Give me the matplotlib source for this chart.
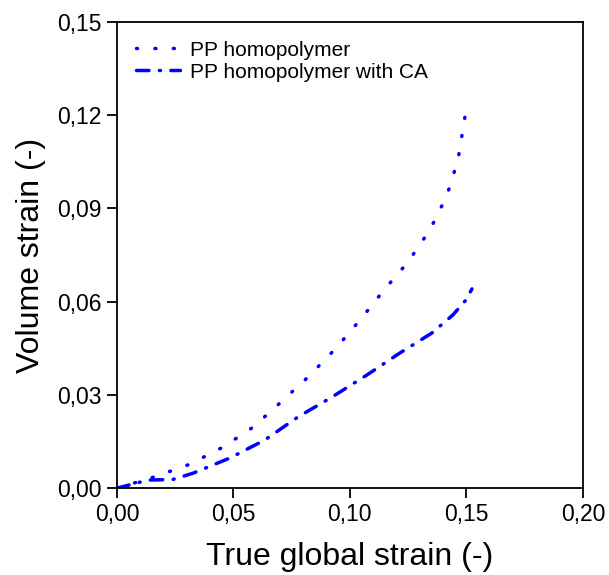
import numpy as np
import matplotlib
matplotlib.use("Agg")
import matplotlib.pyplot as plt
from matplotlib.ticker import FuncFormatter

plt.rcParams['font.family'] = ['Liberation Sans', 'DejaVu Sans']

# PP homopolymer (dotted)
x_pp = [0.0, 0.0155, 0.0313, 0.0455, 0.0584, 0.070, 0.0824, 0.094, 0.1047,
        0.1146, 0.1249, 0.1343, 0.1416, 0.1464, 0.1494]
y_pp = [0.0, 0.0035, 0.0077, 0.0132, 0.0196, 0.0274, 0.036, 0.045, 0.0544,
        0.0637, 0.0727, 0.083, 0.094, 0.1056, 0.1194]

# PP homopolymer with CA (dash-dot)
x_ca = [0.0, 0.0133, 0.024, 0.0326, 0.0485, 0.0635, 0.0777, 0.0923, 0.1073,
        0.1215, 0.1352, 0.1442, 0.1498, 0.1524]
y_ca = [0.0, 0.0026, 0.0028, 0.0048, 0.0097, 0.0155, 0.0229, 0.0293, 0.0364,
        0.0435, 0.0499, 0.0557, 0.0605, 0.0641]

fig = plt.figure(figsize=(6.09, 5.75), dpi=100)
ax = fig.add_axes([0.192, 0.151, 0.765, 0.811])

ax.plot(x_pp, y_pp, color='#0000ff', lw=2.5, dashes=(0.3, 5.0),
        dash_capstyle='round', label='PP homopolymer')
ax.plot(x_ca, y_ca, color='#0000ff', lw=2.5, dashes=(3.6, 3.0, 0.3, 3.0),
        dash_capstyle='round', label='PP homopolymer with CA')

ax.set_xlim(0, 0.20)
ax.set_ylim(0, 0.15)
ax.set_xticks([0.0, 0.05, 0.10, 0.15, 0.20])
ax.set_yticks([0.0, 0.03, 0.06, 0.09, 0.12, 0.15])
ax.xaxis.set_major_formatter(FuncFormatter(lambda v, p: f"{v:.2f}".replace('.', ',')))
ax.yaxis.set_major_formatter(FuncFormatter(lambda v, p: f"{v:.2f}".replace('.', ',')))

for s in ax.spines.values():
    s.set_linewidth(1.3)
ax.tick_params(direction='out', length=7, width=1.3, labelsize=16.5, pad=4)

ax.set_xlabel("True global strain (-)", fontsize=23, labelpad=11)
ax.set_ylabel("Volume strain (-)", fontsize=23, labelpad=8)

ax.legend(loc='upper left', frameon=False, fontsize=15, handlelength=2.15,
          handletextpad=0.45, labelspacing=0.15, borderaxespad=0.5,
          bbox_to_anchor=(0.0, 1.0))

fig.savefig("out.png", dpi=100)
